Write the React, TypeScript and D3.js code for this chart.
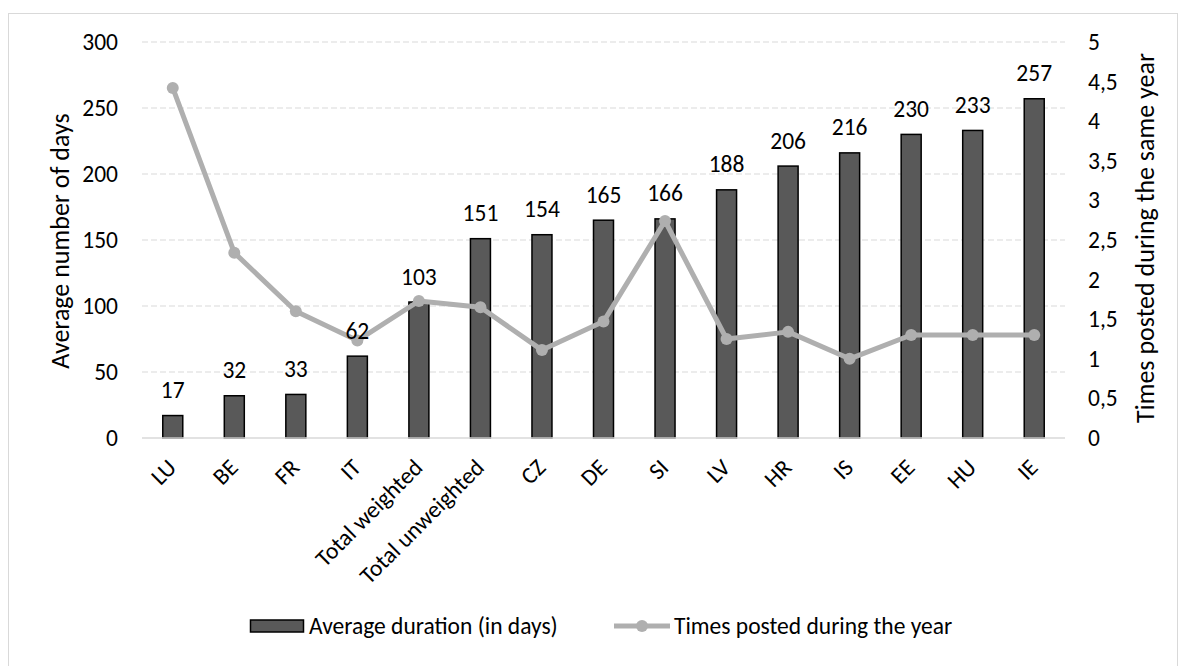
import React from "react";
import * as d3 from "d3";

const categories = ["LU", "BE", "FR", "IT", "Total weighted", "Total unweighted", "CZ", "DE", "SI", "LV", "HR", "IS", "EE", "HU", "IE"];
const durationDays = [17, 32, 33, 62, 103, 151, 154, 165, 166, 188, 206, 216, 230, 233, 257];
const timesPosted = [4.42, 2.34, 1.6, 1.23, 1.73, 1.65, 1.11, 1.47, 2.74, 1.25, 1.34, 1.0, 1.3, 1.3, 1.3];
const leftTicks = [0, 50, 100, 150, 200, 250, 300];
const rightTicks = [0, 0.5, 1, 1.5, 2, 2.5, 3, 3.5, 4, 4.5, 5];
const legendLabels = ["Average duration (in days)", "Times posted during the year"];

const W = 1179, H = 666;
const plotL = 142, plotR = 1065, plotT = 42, plotB = 438;
const FONT = "Carlito, Calibri, Lato, sans-serif";
const FS = 23.5;
const TFS = 26;
const LFS = 23.5;

export default function App() {
  const x = d3.scaleBand<string>().domain(categories).range([plotL, plotR]).paddingInner(0.675).paddingOuter(0.3375);
  const yL = d3.scaleLinear().domain([0, 300]).range([plotB, plotT]);
  const yR = d3.scaleLinear().domain([0, 5]).range([plotB, plotT]);
  const cx = (c: string) => (x(c) as number) + x.bandwidth() / 2;
  const line = d3.line<number>().x((_, i) => cx(categories[i])).y((d) => yR(d));
  const legY = 626;

  return (
    <svg width={W} height={H} style={{ position: "absolute", left: 0, top: 0, background: "#fff" }} fontFamily={FONT}>
      <rect x={8.5} y={13.5} width={1169} height={670} fill="#fff" stroke="#d9d9d9" strokeWidth={1} />
      {leftTicks.filter((t) => t > 0).map((t) => (
        <line key={t} x1={plotL} x2={plotR} y1={yL(t)} y2={yL(t)} stroke="#d9d9d9" strokeWidth={1} strokeDasharray="6,3" />
      ))}
      {leftTicks.map((t) => (
        <text key={t} x={118} y={yL(t)} textAnchor="end" dominantBaseline="central" fontSize={FS} fill="#000">{t}</text>
      ))}
      {rightTicks.map((t) => (
        <text key={t} x={1088} y={yR(t)} textAnchor="start" dominantBaseline="central" fontSize={FS} fill="#000">{String(t).replace(".", ",")}</text>
      ))}
      {categories.map((c, i) => (
        <rect key={c} x={x(c)} y={yL(durationDays[i])} width={x.bandwidth()} height={plotB - yL(durationDays[i])} fill="#595959" stroke="#000" strokeWidth={1.5} />
      ))}
      <line x1={plotL} x2={plotR} y1={plotB} y2={plotB} stroke="#d9d9d9" strokeWidth={1.5} />
      <path d={line(timesPosted) || ""} fill="none" stroke="#afafaf" strokeWidth={5} strokeLinejoin="round" />
      {timesPosted.map((v, i) => (
        <circle key={i} cx={cx(categories[i])} cy={yR(v)} r={6} fill="#afafaf" />
      ))}
      {categories.map((c, i) => (
        <text key={c} x={cx(c)} y={yL(durationDays[i]) - 17.5} textAnchor="middle" fontSize={FS} fill="#000">{durationDays[i]}</text>
      ))}
      {categories.map((c) => (
        <text key={c} transform={`translate(${cx(c) + 5},${plotB + 31}) rotate(-45)`} textAnchor="end" fontSize={FS} fill="#000">{c}</text>
      ))}
      <text transform={`translate(60,241) rotate(-90)`} textAnchor="middle" dominantBaseline="central" fontSize={TFS} fill="#000">Average number of days</text>
      <text transform={`translate(1145,238) rotate(-90)`} textAnchor="middle" dominantBaseline="central" fontSize={TFS} fill="#000">Times posted during the same year</text>
      <rect x={250.5} y={legY - 6} width={53} height={12} fill="#595959" stroke="#000" strokeWidth={1.5} />
      <text x={309} y={legY} dominantBaseline="central" fontSize={LFS} fill="#000">{legendLabels[0]}</text>
      <line x1={614} x2={670} y1={legY} y2={legY} stroke="#afafaf" strokeWidth={5} />
      <circle cx={642} cy={legY} r={6} fill="#afafaf" />
      <text x={674} y={legY} dominantBaseline="central" fontSize={LFS} fill="#000">{legendLabels[1]}</text>
    </svg>
  );
}
